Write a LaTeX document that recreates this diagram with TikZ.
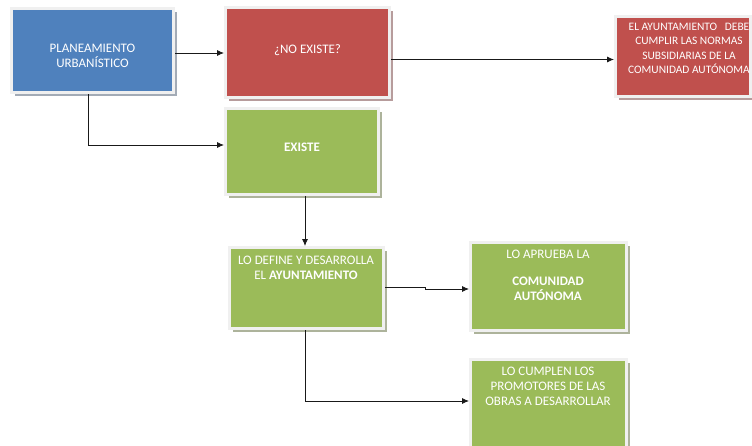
\documentclass[tikz,border=0pt]{standalone}
\usepackage{fontspec}
\setmainfont{Carlito}
\usetikzlibrary{arrows.meta,shadows}
\definecolor{cblue}{HTML}{4F81BD}
\definecolor{cred}{HTML}{C0504D}
\definecolor{cgreen}{HTML}{9BBB59}
\definecolor{cframe}{HTML}{F0F0F0}
\definecolor{shblue}{HTML}{A3ABB6}
\definecolor{shred}{HTML}{B79C9C}
\definecolor{shgreen}{HTML}{ADB39B}
\tikzset{
  box/.style={draw=cframe, line width=3pt, inner sep=0pt, outer sep=1.5pt, rectangle},
  bluebox/.style={box, fill=cblue, drop shadow={shadow xshift=3.5pt, shadow yshift=-3.5pt, fill=shblue, opacity=1}},
  redbox/.style={box, fill=cred, drop shadow={shadow xshift=3.5pt, shadow yshift=-3.5pt, fill=shred, opacity=1}},
  greenbox/.style={box, fill=cgreen, drop shadow={shadow xshift=3.5pt, shadow yshift=-3.5pt, fill=shgreen, opacity=1}},
  txt/.style={text=white, align=center, inner sep=0pt, anchor=north, font=\fontsize{13}{15}\selectfont},
  smalltxt/.style={txt, font=\fontsize{11.4}{14.3}\selectfont},
  arr/.style={draw=black!90, line width=0.8pt, -{Latex[length=7pt,width=6pt]}}
}
\begin{document}
\begin{tikzpicture}[x=1pt,y=-1pt]
\useasboundingbox (0,0) rectangle (752,445);
\clip (0,0) rectangle (752,445);
\fill[white] (0,0) rectangle (752,445);
% boxes
\node[bluebox, minimum width=162pt, minimum height=84pt] (A) at (92.5,50.5) {};
\node[redbox, minimum width=164pt, minimum height=90pt] (B) at (307.5,52.5) {};
\node[greenbox, minimum width=153pt, minimum height=86pt] (C) at (302,151.5) {};
\node[redbox, minimum width=135pt, minimum height=80pt] (D) at (683,56.5) {};
\node[greenbox, minimum width=154pt, minimum height=81pt] (E) at (306.5,288) {};
\node[greenbox, minimum width=156pt, minimum height=88pt] (F) at (548.5,286.5) {};
\node[greenbox, minimum width=156pt, minimum height=92pt] (G) at (548.5,405.5) {};
% texts
\node[txt] (tA) at (92.5,44) {PLANEAMIENTO\\URBANÍSTICO};
\node[txt] (tB) at (307.5,44) {¿NO EXISTE?};
\node[txt] (tC) at (302,143) {\textbf{EXISTE}};
\node[smalltxt] (tD) at (689,23) {EL AYUNTAMIENTO\ \ \ DEBE\\CUMPLIR LAS NORMAS\\SUBSIDIARIAS DE LA\\COMUNIDAD AUTÓNOMA};
\node[txt] (tE) at (306,256) {LO DEFINE Y DESARROLLA\\EL \textbf{AYUNTAMIENTO}};
\node[txt] (tF) at (548,250) {LO APRUEBA LA\\[12pt]\textbf{COMUNIDAD}\\\textbf{AUTÓNOMA}};
\node[txt] (tG) at (548,367) {LO CUMPLEN LOS\\PROMOTORES DE LAS\\OBRAS A DESARROLLAR};
% connectors
\draw[arr] ([yshift=-2.5pt]A.east) -- ([yshift=-2.5pt]A.east -| B.west);
\draw[arr] ([yshift=-7pt]B.east) -- ([yshift=-7pt]B.east -| D.west);
\draw[arr] ([xshift=-4.5pt]A.south) |- ([yshift=6.5pt]C.west);
\draw[arr] ([xshift=3pt]C.south) -- ([xshift=3pt]C.south |- E.north);
\draw[arr] ([yshift=1pt]E.east) -- ([yshift=1pt,xshift=40pt]E.east) |- ([yshift=-2.5pt]F.west);
\draw[arr] ([xshift=-1.5pt]E.south) |- ([yshift=4.5pt]G.west);
\end{tikzpicture}
\end{document}
